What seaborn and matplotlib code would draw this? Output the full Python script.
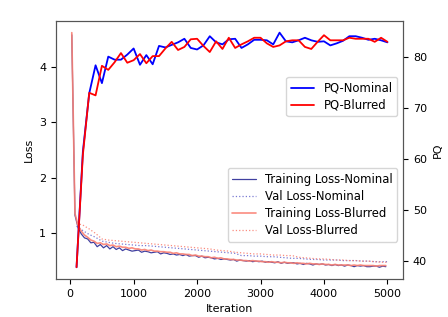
"""Training loss and PQ curves, nominal vs blurred inputs."""

import matplotlib
import matplotlib.pyplot as plt
import numpy as np
import seaborn as sns

matplotlib.use("Agg")

# logged every 50 iterations (training) and every 100 iterations (validation / PQ)
train_iters = np.arange(25, 5000, 50)
eval_iters = np.arange(100, 5001, 100)

train_loss_nominal = [
    4.58, 1.33, 1.10, 0.99, 0.92, 0.90, 0.83, 0.84, 0.76, 0.80, 0.74, 0.78, 0.72, 0.76, 0.71, 0.74, 0.69, 0.72, 0.70, 0.68,
    0.69, 0.70, 0.66, 0.68, 0.67, 0.65, 0.66, 0.67, 0.63, 0.65,
    0.64, 0.62, 0.63, 0.61, 0.62, 0.60, 0.62, 0.59, 0.60, 0.60,
    0.57, 0.59, 0.56, 0.57, 0.56, 0.54, 0.55, 0.53, 0.54, 0.53,
    0.52, 0.53, 0.50, 0.52, 0.51, 0.50, 0.51, 0.49, 0.50, 0.49,
    0.50, 0.48, 0.49, 0.48, 0.47, 0.49, 0.46, 0.48, 0.46, 0.47,
    0.47, 0.45, 0.46, 0.44, 0.46, 0.45, 0.43, 0.45, 0.44, 0.45,
    0.43, 0.44, 0.42, 0.44, 0.42, 0.43, 0.41, 0.43, 0.42, 0.40,
    0.42, 0.41, 0.42, 0.40, 0.40, 0.41, 0.41, 0.39, 0.41, 0.40,
]
train_loss_blurred = [
    4.62, 1.36, 1.14, 1.04, 0.97, 0.93, 0.88, 0.86, 0.82, 0.83, 0.80, 0.81, 0.78, 0.79, 0.76, 0.77, 0.75, 0.75, 0.73, 0.74,
    0.72, 0.72, 0.70, 0.71, 0.69, 0.70, 0.68, 0.68, 0.67, 0.67,
    0.66, 0.66, 0.64, 0.65, 0.63, 0.63, 0.62, 0.62, 0.60, 0.61,
    0.59, 0.59, 0.58, 0.58, 0.56, 0.57, 0.55, 0.56, 0.54, 0.54,
    0.53, 0.53, 0.52, 0.52, 0.51, 0.51, 0.50, 0.51, 0.50, 0.50,
    0.49, 0.49, 0.48, 0.49, 0.48, 0.48, 0.47, 0.48, 0.47, 0.47,
    0.46, 0.47, 0.46, 0.46, 0.45, 0.46, 0.45, 0.45, 0.44, 0.45,
    0.44, 0.44, 0.43, 0.44, 0.43, 0.43, 0.43, 0.43, 0.42, 0.43,
    0.42, 0.43, 0.42, 0.42, 0.42, 0.42, 0.41, 0.42, 0.42, 0.42,
]
val_loss_nominal = [
    1.13, 1.05, 0.98, 0.93, 0.86, 0.84, 0.82, 0.81, 0.80, 0.79,
    0.78, 0.78, 0.77, 0.76, 0.75, 0.74, 0.73, 0.72, 0.71, 0.70,
    0.69, 0.68, 0.67, 0.66, 0.65, 0.64, 0.60, 0.60, 0.59, 0.59,
    0.58, 0.58, 0.57, 0.56, 0.55, 0.55, 0.54, 0.53, 0.53, 0.52,
    0.52, 0.52, 0.51, 0.51, 0.51, 0.50, 0.50, 0.49, 0.49, 0.49,
]
val_loss_blurred = [
    1.18, 1.15, 1.08, 1.00, 0.90, 0.88, 0.87, 0.86, 0.85, 0.84,
    0.83, 0.82, 0.81, 0.80, 0.79, 0.78, 0.77, 0.76, 0.75, 0.74,
    0.73, 0.72, 0.70, 0.69, 0.68, 0.66, 0.65, 0.64, 0.63, 0.63,
    0.62, 0.61, 0.61, 0.60, 0.60, 0.57, 0.56, 0.55, 0.54, 0.54,
    0.53, 0.52, 0.52, 0.51, 0.51, 0.50, 0.50, 0.49, 0.48, 0.48,
]
pq_nominal = [
    38.8, 61.5, 72.9, 78.4, 74.9, 80.1, 79.5, 79.5, 80.5, 81.7,
    78.5, 80.4, 78.6, 82.2, 81.9, 82.4, 82.9, 83.6, 81.8, 81.5,
    82.3, 84.1, 82.9, 82.5, 83.5, 83.6, 81.8, 82.5, 83.4, 83.4,
    83.3, 82.5, 84.8, 83.1, 82.9, 83.3, 83.8, 83.3, 83.0, 83.1,
    82.3, 82.7, 83.2, 84.1, 84.1, 83.8, 83.4, 83.6, 83.3, 82.9,
]
pq_blurred = [
    38.8, 60.9, 73.0, 72.5, 78.3, 77.5, 79.0, 80.8, 78.9, 79.4,
    80.6, 78.8, 80.2, 80.2, 81.7, 83.0, 81.4, 82.0, 83.5, 83.6,
    82.2, 81.0, 83.1, 81.6, 83.8, 81.8, 82.5, 83.1, 83.8, 83.8,
    82.7, 82.0, 82.3, 83.1, 83.3, 83.3, 82.0, 81.6, 83.0, 84.3,
    83.3, 83.3, 83.3, 83.8, 83.6, 83.6, 83.6, 83.0, 83.8, 83.0,
]

sns.set_style("ticks")
plt.rcParams.update({
    "font.family": ["DejaVu Sans"],
    "font.size": 8,
    "legend.fontsize": 8.4,
    "legend.labelspacing": 0.35,
    "axes.edgecolor": "#555555",
    "axes.linewidth": 0.8,
    "text.color": "black",
    "axes.labelcolor": "black",
    "xtick.color": "black",
    "ytick.color": "black",
})

fig, ax = plt.subplots(figsize=(4.48, 3.17), dpi=100)
fig.subplots_adjust(left=0.125, right=0.9, bottom=0.12, top=0.934)

sns.lineplot(x=train_iters, y=train_loss_nominal, ax=ax, color="navy", alpha=0.75, linewidth=0.9,
             label="Training Loss-Nominal")
sns.lineplot(x=eval_iters, y=val_loss_nominal, ax=ax, color="#4040c0", alpha=0.7, linewidth=0.9,
             linestyle=":", label="Val Loss-Nominal")
sns.lineplot(x=train_iters, y=train_loss_blurred, ax=ax, color="salmon", alpha=0.9, linewidth=1.2,
             label="Training Loss-Blurred")
sns.lineplot(x=eval_iters, y=val_loss_blurred, ax=ax, color="salmon", alpha=0.9, linewidth=0.9,
             linestyle=":", label="Val Loss-Blurred")
ax.set_xlabel("Iteration")
ax.set_ylabel("Loss")
ax.legend(loc="upper right", bbox_to_anchor=(1, 0.452))

ax2 = ax.twinx()
sns.lineplot(x=eval_iters, y=pq_nominal, ax=ax2, color="blue", linewidth=1.3, label="PQ-Nominal")
sns.lineplot(x=eval_iters, y=pq_blurred, ax=ax2, color="red", linewidth=1.3, label="PQ-Blurred")
ax2.set_ylabel("PQ")
ax2.legend(loc="upper right", bbox_to_anchor=(1, 0.805))

ax.set_xticks([0, 1000, 2000, 3000, 4000, 5000])
ax.set_yticks([1, 2, 3, 4])
ax2.set_yticks([40, 50, 60, 70, 80])

fig.savefig("out.png", dpi=100)
plt.close(fig)
